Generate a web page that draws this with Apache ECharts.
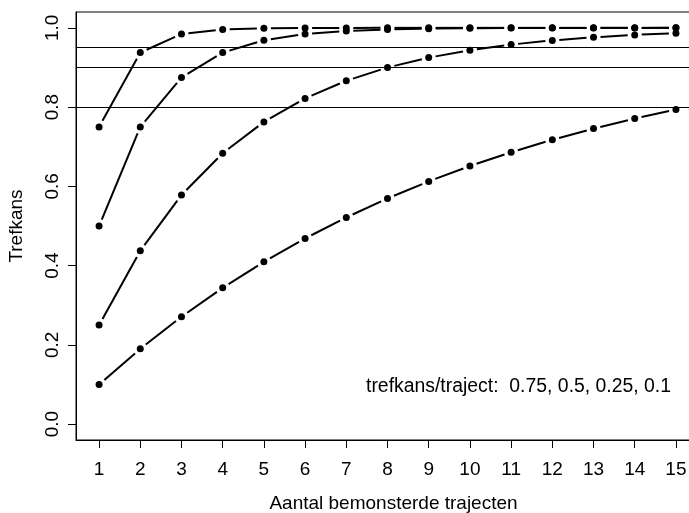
<!DOCTYPE html>
<html>
<head>
<meta charset="utf-8">
<script src="https://cdn.jsdelivr.net/npm/echarts@6/dist/echarts.min.js"></script>
<style>html,body{margin:0;padding:0;background:#fff;}#c{width:689px;height:513px;}</style>
</head>
<body>
<div id="c"></div>
<script>
var trajecten = [1,2,3,4,5,6,7,8,9,10,11,12,13,14,15];
var p075 = [0.75,0.9375,0.9844,0.9961,0.9990,0.9998,0.9999,1.0,1.0,1.0,1.0,1.0,1.0,1.0,1.0];
var p050 = [0.5,0.75,0.875,0.9375,0.9688,0.9844,0.9922,0.9961,0.9980,0.9990,0.9995,0.9998,0.9999,0.9999,1.0];
var p025 = [0.25,0.4375,0.5781,0.6836,0.7627,0.8220,0.8665,0.8999,0.9249,0.9437,0.9578,0.9683,0.9762,0.9822,0.9866];
var p010 = [0.1,0.19,0.271,0.3439,0.4095,0.4686,0.5217,0.5695,0.6126,0.6513,0.6862,0.7176,0.7458,0.7712,0.7941];
var yTicks = [0,0.2,0.4,0.6,0.8,1.0];
var refLines = [0.8,0.9,0.95];
var FONT = 'Liberation Sans';
var FS = 19;

function makeSeries(vals){
  var data = trajecten.map(function(x,i){ return [x, vals[i]]; });
  return {
    type:'custom',
    data:data,
    silent:true,
    clip:false,
    renderItem:function(params, api){
      var i = params.dataIndex;
      var p = api.coord([api.value(0), api.value(1)]);
      var children = [{
        type:'circle',
        shape:{cx:p[0], cy:p[1], r:3.5},
        style:{fill:'#000'}
      }];
      if (i < data.length-1){
        var q = api.coord(data[i+1]);
        var dx = q[0]-p[0], dy = q[1]-p[1];
        var L = Math.sqrt(dx*dx+dy*dy);
        var g = 7;
        if (L > 2*g){
          var ux = dx/L, uy = dy/L;
          children.push({
            type:'line',
            shape:{x1:p[0]+ux*g, y1:p[1]+uy*g, x2:q[0]-ux*g, y2:q[1]-uy*g},
            style:{stroke:'#000', lineWidth:2}
          });
        }
      }
      return {type:'group', children:children};
    }
  };
}

var chart = echarts.init(document.getElementById('c'));
var series = [p075,p050,p025,p010].map(makeSeries);
series.push({
  type:'line',
  data:[],
  silent:true,
  markLine:{
    silent:true,
    symbol:'none',
    label:{show:false},
    lineStyle:{color:'#000', width:1, type:'solid'},
    data: refLines.map(function(v){ return {yAxis:v}; })
  }
});
chart.setOption({
  animation:false,
  backgroundColor:'#fff',
  textStyle:{fontFamily:FONT},
  grid:{left:76, top:12, right:-10, bottom:73, show:true, borderColor:'#000', borderWidth:1,
        containLabel:false, outerBoundsMode:'none'},
  xAxis:{
    type:'value', min:0.44, max:15.56,
    name:'Aantal bemonsterde trajecten', nameLocation:'middle', nameGap:54,
    nameTextStyle:{fontSize:FS, color:'#000', fontFamily:FONT, padding:[0,0,0,12]},
    axisLine:{show:true, onZero:false, lineStyle:{color:'#000', width:1}},
    axisTick:{show:true, length:8, customValues:trajecten, lineStyle:{color:'#000'}},
    axisLabel:{customValues:trajecten, fontSize:FS, color:'#000', margin:20, fontFamily:FONT},
    splitLine:{show:false}
  },
  yAxis:{
    type:'value', min:-0.04, max:1.04,
    name:'Trefkans', nameLocation:'middle', nameGap:50,
    nameTextStyle:{fontSize:FS, color:'#000', fontFamily:FONT},
    axisLine:{show:true, onZero:false, lineStyle:{color:'#000', width:1}},
    axisTick:{show:true, length:8, customValues:yTicks, lineStyle:{color:'#000'}},
    axisLabel:{customValues:yTicks, rotate:90, fontSize:FS, color:'#000', margin:14, fontFamily:FONT,
      formatter:function(v){ return v.toFixed(1); }},
    splitLine:{show:false}
  },
  graphic:[{
    type:'text', x:366, y:387,
    style:{text:'trefkans/traject:  0.75, 0.5, 0.25, 0.1', font:'19.4px "'+FONT+'"', fill:'#000', verticalAlign:'middle'}
  }],
  series:series
});
</script>
</body>
</html>
